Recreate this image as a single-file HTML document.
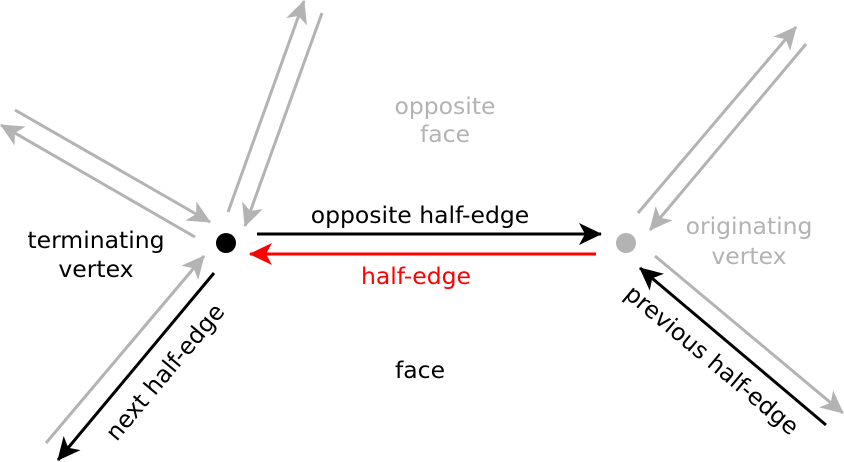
<!DOCTYPE html>
<html><head><meta charset="utf-8"><style>
html,body{margin:0;padding:0;background:#fff;}
svg{display:block;}
text{font-family:"DejaVu Sans","Liberation Sans",sans-serif;font-size:23.5px;}
</style></head><body>
<svg width="844" height="462" viewBox="0 0 844 462">
<defs>
<marker id="ag" markerUnits="userSpaceOnUse" markerWidth="26" markerHeight="24" refX="22" refY="11" orient="auto"><path d="M0,0 L23,11 L0,22 L6,11 Z" fill="#b3b3b3"/></marker>
<marker id="ak" markerUnits="userSpaceOnUse" markerWidth="26" markerHeight="24" refX="22" refY="11" orient="auto"><path d="M0,0 L23,11 L0,22 L6,11 Z" fill="#000"/></marker>
<marker id="ar" markerUnits="userSpaceOnUse" markerWidth="26" markerHeight="24" refX="22" refY="11" orient="auto"><path d="M0,0 L23,11 L0,22 L6,11 Z" fill="#f00"/></marker>
</defs>
<g stroke-width="3" fill="none">
<line x1="15" y1="110" x2="210" y2="222" stroke="#b3b3b3" marker-end="url(#ag)"/>
<line x1="195" y1="237" x2="1" y2="125" stroke="#b3b3b3" marker-end="url(#ag)"/>
<line x1="228" y1="212" x2="304" y2="1" stroke="#b3b3b3" marker-end="url(#ag)"/>
<line x1="322" y1="13" x2="245" y2="226" stroke="#b3b3b3" marker-end="url(#ag)"/>
<line x1="46" y1="443" x2="204" y2="256" stroke="#b3b3b3" marker-end="url(#ag)"/>
<line x1="214" y1="273" x2="58" y2="460" stroke="#000" marker-end="url(#ak)"/>
<line x1="257" y1="234" x2="601" y2="234" stroke="#000" marker-end="url(#ak)"/>
<line x1="596" y1="254" x2="250" y2="254" stroke="#f00" marker-end="url(#ar)"/>
<line x1="638" y1="213" x2="796" y2="27" stroke="#b3b3b3" marker-end="url(#ag)"/>
<line x1="806" y1="44" x2="650" y2="230" stroke="#b3b3b3" marker-end="url(#ag)"/>
<line x1="655" y1="256" x2="843" y2="413" stroke="#b3b3b3" marker-end="url(#ag)"/>
<line x1="826" y1="425" x2="640" y2="268" stroke="#000" marker-end="url(#ak)"/>
</g>
<circle cx="226" cy="243" r="10" fill="#000"/>
<circle cx="626" cy="243" r="10" fill="#b3b3b3"/>
<text x="445" y="114" text-anchor="middle" fill="#b3b3b3">opposite</text>
<text x="445" y="142" text-anchor="middle" fill="#b3b3b3">face</text>
<text x="420" y="223" text-anchor="middle" fill="#000">opposite half-edge</text>
<text x="416" y="284" text-anchor="middle" fill="#f00">half-edge</text>
<text x="96" y="248" text-anchor="middle" fill="#000">terminating</text>
<text x="96" y="277" text-anchor="middle" fill="#000">vertex</text>
<text x="749" y="234" text-anchor="middle" fill="#b3b3b3">originating</text>
<text x="749" y="264" text-anchor="middle" fill="#b3b3b3">vertex</text>
<text x="420" y="378" text-anchor="middle" fill="#000">face</text>
<text x="0" y="8" text-anchor="middle" fill="#000" transform="translate(165,372) rotate(-50)">next half-edge</text>
<text x="0" y="8" text-anchor="middle" fill="#000" transform="translate(712,360) rotate(40)">previous half-edge</text>
</svg>
</body></html>
